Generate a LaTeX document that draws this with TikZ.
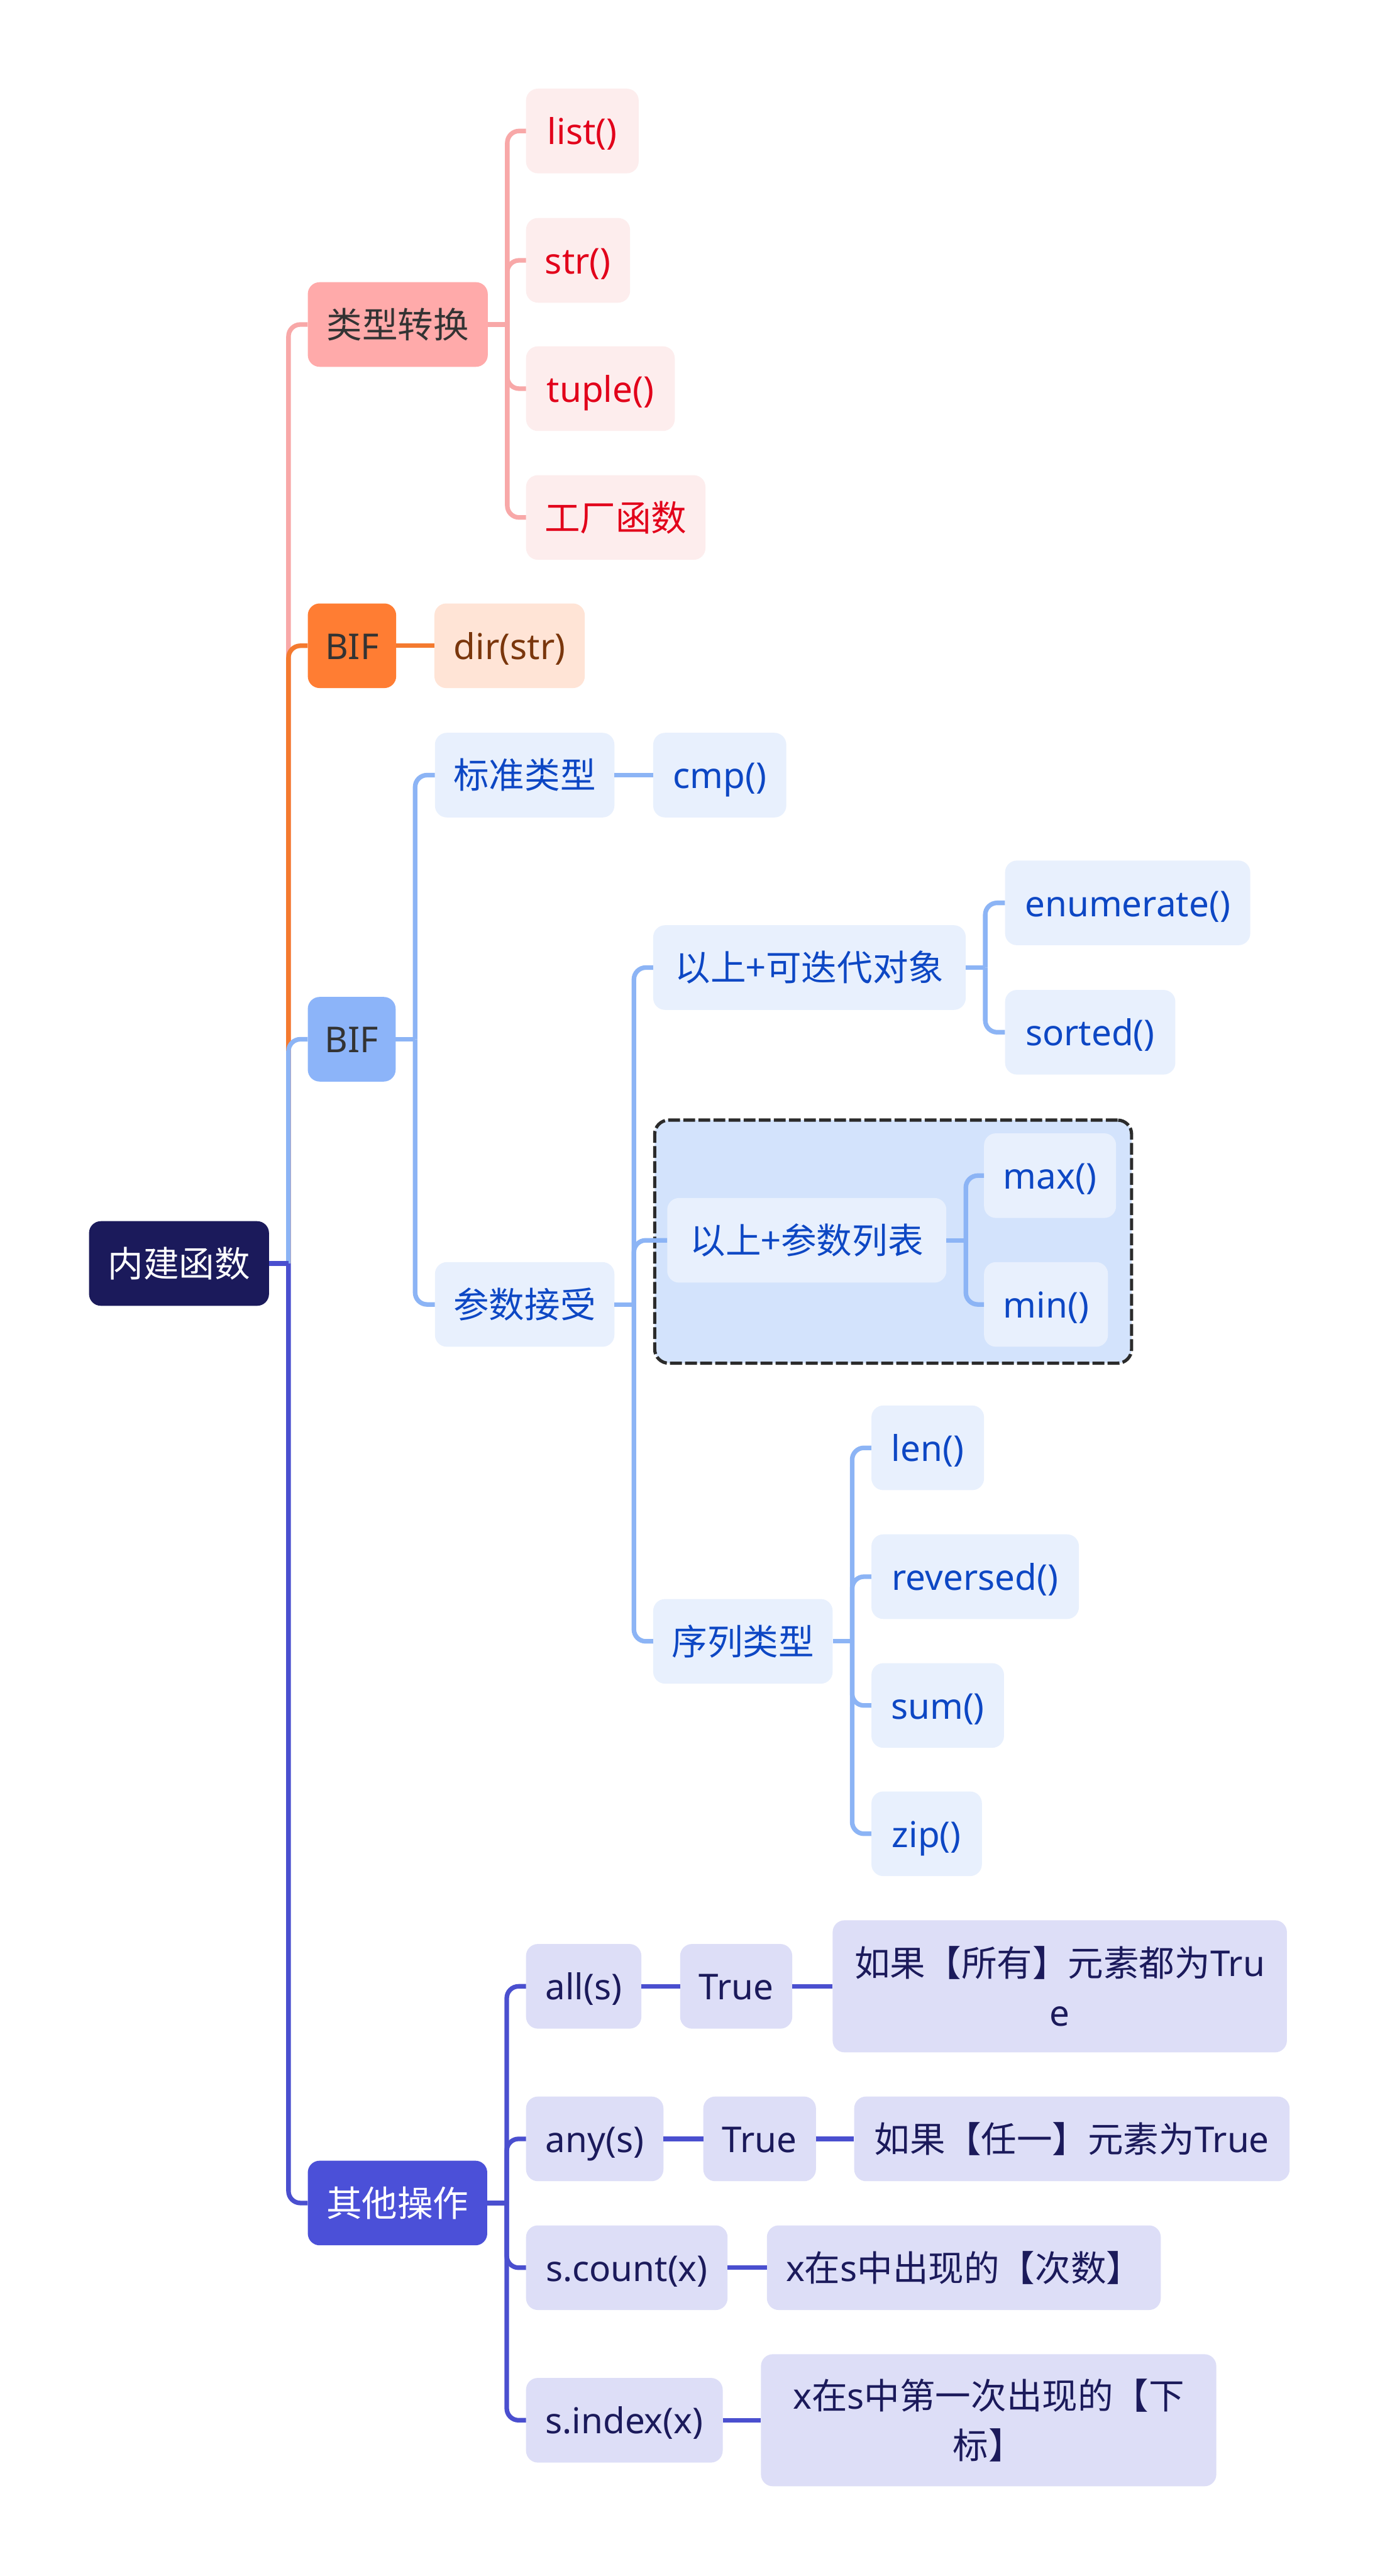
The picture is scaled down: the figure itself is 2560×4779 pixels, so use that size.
\documentclass[tikz,border=0pt]{standalone}
\usepackage{fontspec}
\setmainfont{Noto Sans}
\newfontfamily\cjk{Noto Sans CJK SC}
\newcommand{\zh}[1]{{\cjk #1}}
\usepackage{xcolor}
\definecolor{rootnavy}{HTML}{1B1A5B}
\definecolor{darktext}{HTML}{333333}
\definecolor{dashgray}{HTML}{2B2B2B}
\definecolor{pinkmain}{HTML}{FFAAAA}
\definecolor{pinkline}{HTML}{F8A8A8}
\definecolor{pinkleaf}{HTML}{FDEDED}
\definecolor{pinktext}{HTML}{E2001A}
\definecolor{orangemain}{HTML}{FF7D33}
\definecolor{orangeline}{HTML}{F47A2F}
\definecolor{orangeleaf}{HTML}{FFE4D6}
\definecolor{orangetext}{HTML}{7A360C}
\definecolor{bluemain}{HTML}{8CB4F9}
\definecolor{blueline}{HTML}{8CB4F5}
\definecolor{blueleaf}{HTML}{E8F0FD}
\definecolor{bluegroup}{HTML}{D3E3FC}
\definecolor{bluetext}{HTML}{0D47C4}
\definecolor{purplemain}{HTML}{4B50D8}
\definecolor{purpleline}{HTML}{4A4FCF}
\definecolor{purpleleaf}{HTML}{DDDEF7}
\usepackage{tikz}

\tikzset{
  base/.style={anchor=west, rounded corners=22pt, minimum height=157pt, inner xsep=0pt, font=\fontsize{66}{92}\selectfont},
  box/.style={base, text height=50pt, text depth=0pt},
  tallbox/.style={base, minimum height=245pt, align=center},
  link/.style={line width=8.5pt, rounded corners=22pt},
  groupbox/.style={anchor=north west, rounded corners=26pt, fill=bluegroup, draw=dashgray, line width=6pt, dash pattern=on 22pt off 6pt}
}

\begin{document}
\begin{tikzpicture}[x=1pt, y=-1pt]
  \useasboundingbox (0,0) rectangle (2560,4779);
  \fill[white] (0,0) rectangle (2560,4779);

  % Dashed group
  \node[groupbox, minimum width=885pt, minimum height=451pt] (grp) at (1212,2075) {};

  % Root and main branches
  \node[box, fill=rootnavy, text=white, minimum width=334pt] (root) at (165,2344) {\zh{内建函数}};
  \node[box, fill=pinkmain, text=darktext, minimum width=334pt] (conv) at (571,602) {\zh{类型转换}};
  \node[box, fill=orangemain, text=darktext, minimum width=164pt] (bifa) at (571,1198) {BIF};
  \node[box, fill=bluemain, text=darktext, minimum width=163pt] (bifb) at (571,1928) {BIF};
  \node[box, fill=purplemain, text=white, minimum width=333pt] (other) at (571,4087) {\zh{其他操作}};

  % Type conversion
  \foreach \name/\y/\w/\txt in {list/243/209/list(), str/483/193/str(), tuple/721/276/tuple(), fact/960/333/\zh{工厂函数}}
    \node[box, fill=pinkleaf, text=pinktext, minimum width=\w pt] (\name) at (976,\y) {\txt};
  \node[box, fill=orangeleaf, text=orangetext, minimum width=279pt] (dir) at (806,1198) {dir(str)};

  % BIF (blue)
  \node[box, fill=blueleaf, text=bluetext, minimum width=333pt] (std) at (807,1438) {\zh{标准类型}};
  \node[box, fill=blueleaf, text=bluetext, minimum width=247pt] (cmp) at (1212,1438) {cmp()};
  \node[box, fill=blueleaf, text=bluetext, minimum width=333pt] (args) at (807,2420) {\zh{参数接受}};
  \node[box, fill=blueleaf, text=bluetext, minimum width=580pt] (iter) at (1212,1795) {\zh{以上+可迭代对象}};
  \node[box, fill=blueleaf, text=bluetext, minimum width=518pt] (plist) at (1238,2301) {\zh{以上+参数列表}};
  \node[box, fill=blueleaf, text=bluetext, minimum width=333pt] (seq) at (1212,3045) {\zh{序列类型}};
  \foreach \name/\y/\w/\txt in {enum/1675/455/enumerate(), sorted/1915/316/sorted()}
    \node[box, fill=blueleaf, text=bluetext, minimum width=\w pt] (\name) at (1865,\y) {\txt};
  \foreach \name/\y/\w/\txt in {max/2181/245/max(), min/2420/230/min()}
    \node[box, fill=blueleaf, text=bluetext, minimum width=\w pt] (\name) at (1826,\y) {\txt};
  \foreach \name/\y/\w/\txt in {len/2686/209/len(), rev/2925/385/reversed(), sum/3164/246/sum(), zip/3402/205/zip()}
    \node[box, fill=blueleaf, text=bluetext, minimum width=\w pt] (\name) at (1617,\y) {\txt};

  % Other operations
  \foreach \name/\y/\w/\txt in {all/3685/214/all(s), any/3968/255/any(s), count/4207/374/s.count(x), index/4490/365/s.index(x)}
    \node[box, fill=purpleleaf, text=rootnavy, minimum width=\w pt] (\name) at (976,\y) {\txt};
  \node[box, fill=purpleleaf, text=rootnavy, minimum width=208pt] (truea) at (1262,3685) {True};
  \node[box, fill=purpleleaf, text=rootnavy, minimum width=209pt] (trueb) at (1305,3968) {True};
  \node[tallbox, fill=purpleleaf, text=rootnavy, minimum width=843pt] (alld) at (1545,3685) {\zh{如果【所有】元素都为}Tru\\e};
  \node[box, fill=purpleleaf, text=rootnavy, minimum width=808pt] (anyd) at (1585,3968) {\zh{如果【任一】元素为}True};
  \node[box, fill=purpleleaf, text=rootnavy, minimum width=731pt] (countd) at (1423,4207) {x\zh{在}s\zh{中出现的【次数】}};
  \node[tallbox, fill=purpleleaf, text=rootnavy, minimum width=845pt] (indexd) at (1412,4490) {x\zh{在}s\zh{中第一次出现的【下}\\\zh{标】}};

  % Junctions
  \foreach \p in {root,conv,bifb,args,iter,plist,seq,other}
    \coordinate (\p j) at ([xshift=36pt]\p.east);

  % Connectors
  \draw[link, pinkline] (rootj) |- (conv.west);
  \draw[link, orangeline] (rootj) |- (bifa.west);
  \draw[link, blueline] (rootj) |- (bifb.west);
  \draw[link, purpleline] (rootj) |- (other.west);
  \draw[link, purpleline] (root.east) -- (rootj);

  \draw[link, pinkline] (conv.east) -- (convj);
  \foreach \c in {list,str,tuple,fact}
    \draw[link, pinkline] (convj) |- (\c.west);
  \draw[link, orangeline] (bifa.east) -- (dir.west);

  \draw[link, blueline] (bifb.east) -- (bifbj);
  \foreach \c in {std,args}
    \draw[link, blueline] (bifbj) |- (\c.west);
  \draw[link, blueline] (std.east) -- (cmp.west);
  \draw[link, blueline] (args.east) -- (argsj);
  \foreach \c in {iter,plist,seq}
    \draw[link, blueline] (argsj) |- (\c.west);
  \draw[link, blueline] (iter.east) -- (iterj);
  \foreach \c in {enum,sorted}
    \draw[link, blueline] (iterj) |- (\c.west);
  \draw[link, blueline] (plist.east) -- (plistj);
  \foreach \c in {max,min}
    \draw[link, blueline] (plistj) |- (\c.west);
  \draw[link, blueline] (seq.east) -- (seqj);
  \foreach \c in {len,rev,sum,zip}
    \draw[link, blueline] (seqj) |- (\c.west);

  \draw[link, purpleline] (other.east) -- (otherj);
  \foreach \c in {all,any,count,index}
    \draw[link, purpleline] (otherj) |- (\c.west);
  \draw[link, purpleline] (all.east) -- (truea.west);
  \draw[link, purpleline] (truea.east) -- (alld.west);
  \draw[link, purpleline] (any.east) -- (trueb.west);
  \draw[link, purpleline] (trueb.east) -- (anyd.west);
  \draw[link, purpleline] (count.east) -- (countd.west);
  \draw[link, purpleline] (index.east) -- (indexd.west);
\end{tikzpicture}
\end{document}
